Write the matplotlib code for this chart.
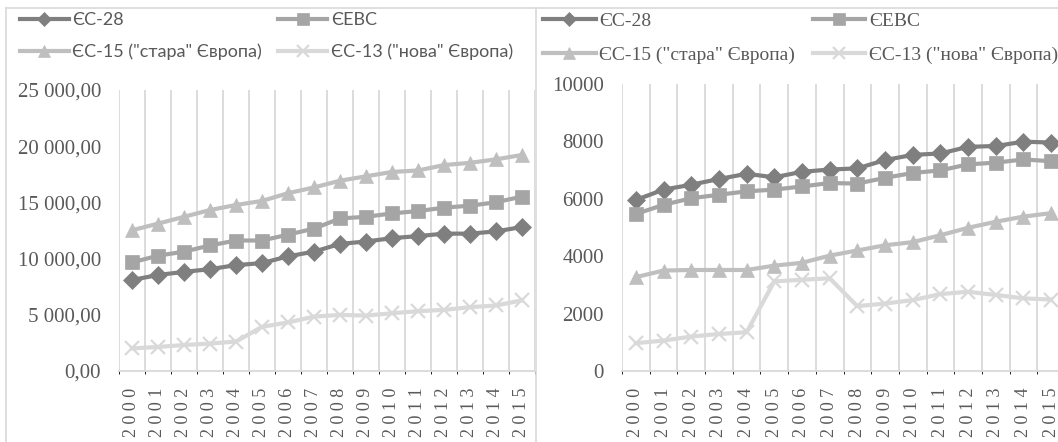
import matplotlib.pyplot as plt
from matplotlib.lines import Line2D
from matplotlib.ticker import FixedLocator

# Years on the horizontal axis
years = list(range(2000, 2016))

# Series names
names = ['ЄС-28', 'ЄЕВС', 'ЄС-15 ("стара" Європа)', 'ЄС-13 ("нова" Європа)']

# Left chart values
left_eu28 = [8100, 8540, 8820, 9060, 9420, 9600, 10200, 10620,
             11310, 11520, 11820, 12000, 12220, 12220, 12420, 12810]
left_eevs = [9660, 10260, 10620, 11170, 11610, 11610, 12130, 12670,
             13570, 13720, 14020, 14230, 14530, 14710, 15010, 15520]
left_eu15 = [12520, 13110, 13720, 14320, 14770, 15130, 15820, 16330,
             16930, 17320, 17710, 17840, 18320, 18520, 18830, 19220]
left_eu13 = [2010, 2140, 2310, 2440, 2620, 3930, 4320, 4840,
             4990, 4930, 5140, 5320, 5440, 5680, 5830, 6280]

# Right chart values
right_eu28 = [5960, 6320, 6490, 6690, 6870, 6750, 6940, 7020,
              7060, 7350, 7530, 7580, 7810, 7840, 7990, 7960]
right_eevs = [5470, 5790, 6020, 6140, 6260, 6320, 6430, 6550,
              6530, 6730, 6900, 6990, 7200, 7260, 7370, 7310]
right_eu15 = [3270, 3500, 3520, 3520, 3520, 3670, 3770, 4020,
              4200, 4380, 4490, 4730, 4990, 5200, 5380, 5500]
right_eu13 = [970, 1060, 1200, 1290, 1350, 3120, 3180, 3230,
              2260, 2350, 2470, 2680, 2760, 2650, 2530, 2490]

# Look of each series
colors = ['#7f7f7f', '#a5a5a5', '#bfbfbf', '#d9d9d9']
markers = ['D', 's', '^', 'x']
msizes = [9, 10.5, 10.5, 10.5]

W, H = 1058, 442
text_gray = '#595959'
grid_gray = '#d9d9d9'


def box(x0, x1, y_top, y_bot):
    # convert pixel box to figure fractions
    return [x0 / W, (H - y_bot) / H, (x1 - x0) / W, (y_bot - y_top) / H]


def draw_panel(ax, series, ylim, step, fmt, legend_font, legend_size, anchor):
    x = list(range(len(years)))
    handles = []
    for vals, c, m, ms, name in zip(series, colors, markers, msizes, names):
        h, = ax.plot(x, vals, color=c, marker=m, markersize=ms, lw=3.0,
                     markeredgewidth=1.6 if m == 'x' else 0.5,
                     markeredgecolor=c, label=name)
        handles.append(h)

    ax.set_xlim(-0.5, len(years) - 0.5)
    ax.set_ylim(*ylim)
    ax.set_xticks(x)
    ax.set_xticklabels([' '.join(str(y)) for y in years], rotation=90,
                       family='Liberation Serif', fontsize=13, color=text_gray)
    ticks = list(range(ylim[0], ylim[1] + 1, step))
    ax.set_yticks(ticks)
    ax.set_yticklabels([fmt(t) for t in ticks], family='Liberation Serif',
                       fontsize=15, color=text_gray)
    ax.tick_params(axis='both', length=0)
    ax.tick_params(axis='x', pad=12)
    ax.tick_params(axis='y', pad=13)

    # vertical grid between the categories
    ax.xaxis.set_minor_locator(FixedLocator([i - 0.5 for i in range(len(years) + 1)]))
    ax.grid(which='minor', axis='x', color=grid_gray, lw=1.3)
    ax.set_axisbelow(True)
    for s in ['top', 'right', 'left']:
        ax.spines[s].set_visible(False)
    ax.spines['bottom'].set_color(grid_gray)
    ax.spines['bottom'].set_linewidth(1.3)

    order = [0, 2, 1, 3]
    fig.legend([handles[i] for i in order], [names[i] for i in order],
               ncol=2, loc='upper left', bbox_to_anchor=anchor,
               frameon=False, prop={'family': legend_font, 'size': legend_size},
               handlelength=2.7, handletextpad=0.2, columnspacing=0.9,
               labelspacing=0.85, borderaxespad=0, borderpad=0,
               markerscale=0.8, labelcolor=text_gray)


def fmt_left(v):
    return f'{v:,.2f}'.replace(',', ' ').replace('.', ',')


def fmt_right(v):
    return str(v)


fig = plt.figure(figsize=(W / 100, H / 100), dpi=100)

# panel frames
for x0 in [6, 536]:
    fig.add_artist(Line2D([x0 / W, x0 / W], [0, (H - 8) / H], color=grid_gray, lw=1.2))
fig.add_artist(Line2D([6 / W, 1], [(H - 8) / H, (H - 8) / H], color=grid_gray, lw=1.2))

ax1 = fig.add_axes(box(119, 535, 90, 371))
draw_panel(ax1, [left_eu28, left_eevs, left_eu15, left_eu13], (0, 25000), 5000,
           fmt_left, ['Lato', 'DejaVu Sans'], 13, (20 / W, (H - 12) / H))

ax2 = fig.add_axes(box(622, 1065, 84, 371))
draw_panel(ax2, [right_eu28, right_eevs, right_eu15, right_eu13], (0, 10000), 2000,
           fmt_right, 'Liberation Serif', 14, (543 / W, (H - 12) / H))

fig.savefig('out.png', dpi=100)
